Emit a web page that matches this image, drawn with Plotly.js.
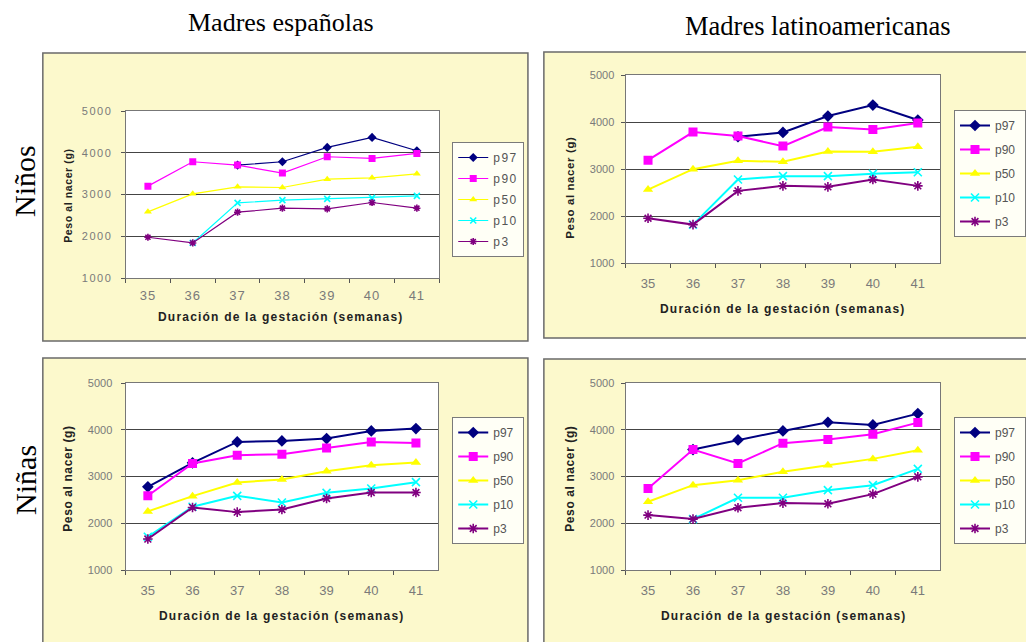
<!DOCTYPE html>
<html><head><meta charset="utf-8">
<script src="https://cdn.plot.ly/plotly-3.0.1.min.js"></script>
<style>
html,body{margin:0;padding:0;background:#fff;}
#chart{width:1026px;height:642px;}
.xtick text{letter-spacing:1px;}
.ytick text{letter-spacing:1.5px;}
.legendtext{letter-spacing:1.5px;}
</style></head><body><div id="chart"></div>
<script>
// ---------- DATA ----------
const weeks = ['35','36','37','38','39','40','41'];
const seriesNames = ['p97','p90','p50','p10','p3'];
const colTitles = ['Madres españolas','Madres latinoamericanas'];
const rowTitles = ['Niños','Niñas'];
const xTitle = 'Duración de la gestación (semanas)';
const yTitle = 'Peso al nacer (g)';

// Madres españolas - Niños
const espNinos_p97 = [null, null, 3704, 3784, 4128, 4368, 4048];
const espNinos_p90 = [3200, 3784, 3704, 3512, 3904, 3864, 3984];
const espNinos_p50 = [2584, 3016, 3184, 3168, 3368, 3400, 3496];
const espNinos_p10 = [null, 1840, 2800, 2864, 2896, 2920, 2968];
const espNinos_p3  = [1976, 1840, 2576, 2672, 2656, 2808, 2672];

// Madres latinoamericanas - Niños
const latNinos_p97 = [null, null, 3686, 3778, 4126, 4361, 4041];
const latNinos_p90 = [3188, 3785, 3700, 3487, 3892, 3842, 3977];
const latNinos_p50 = [2563, 2996, 3174, 3153, 3373, 3366, 3472];
const latNinos_p10 = [null, 1817, 2776, 2847, 2847, 2897, 2932];
const latNinos_p3  = [1952, 1817, 2535, 2641, 2620, 2776, 2641];

// Madres españolas - Niñas
const espNinas_p97 = [2779, 3292, 3740, 3762, 3811, 3975, 4025];
const espNinas_p90 = [2587, 3278, 3456, 3477, 3612, 3740, 3719];
const espNinas_p50 = [2253, 2580, 2872, 2936, 3114, 3242, 3299];
const espNinas_p10 = [1712, 2352, 2587, 2445, 2651, 2744, 2879];
const espNinas_p3  = [1662, 2338, 2238, 2295, 2530, 2658, 2658];

// Madres latinoamericanas - Niñas
const latNinas_p97 = [null, 3577, 3783, 3975, 4160, 4103, 4345];
const latNinas_p90 = [2744, 3577, 3278, 3712, 3790, 3904, 4153];
const latNinas_p50 = [2459, 2815, 2922, 3100, 3242, 3377, 3562];
const latNinas_p10 = [null, 2089, 2545, 2545, 2708, 2815, 3164];
const latNinas_p3  = [2174, 2089, 2331, 2431, 2416, 2623, 2993];

// ---------- STYLE / LAYOUT ----------
const W = 1026, H = 642;
const px = v => v / W;
const py = v => 1 - v / H;
const SANS = 'Liberation Sans, Arial, sans-serif';
const SERIF = 'Liberation Serif, Times New Roman, serif';

const colors  = ['#000080', '#ff00ff', '#ffff00', '#00ffff', '#800080'];
const symbols = ['diamond', 'square', 'triangle-up', 'x-thin-open', 'asterisk-open'];

const panels = [
  {id:'', data:[espNinos_p97,espNinos_p90,espNinos_p50,espNinos_p10,espNinos_p3],
   plot:[126,441,111,278], box:[43,530,53,341], leg:[454,142], lw:1.2, ms:7, gap:2,
   xt:[282,317], yt:[68,196], ytSize:10.5, ylabStand:6, xlabStand:5},
  {id:'2', data:[latNinos_p97,latNinos_p90,latNinos_p50,latNinos_p10,latNinos_p3],
   plot:[628,944,75,263], box:[546,1032,52,338], leg:[958,110], lw:2, ms:9, gap:5,
   xt:[786,309], yt:[572,188], ytSize:11.5, ylabStand:4, xlabStand:8},
  {id:'3', data:[espNinas_p97,espNinas_p90,espNinas_p50,espNinas_p10,espNinas_p3],
   plot:[126,440,383,570], box:[43,530,358,648], leg:[454,417], lw:2, ms:9, gap:5,
   xt:[283,616], yt:[68,479], ytSize:12, ylabStand:6, xlabStand:8},
  {id:'4', data:[latNinas_p97,latNinas_p90,latNinas_p50,latNinas_p10,latNinas_p3],
   plot:[628,944,383,570], box:[546,1032,359,648], leg:[958,417], lw:2, ms:9, gap:5,
   xt:[787,616], yt:[572,479], ytSize:12, ylabStand:4, xlabStand:8}
];

const traces = [];
const layout = {
  width: W, height: H,
  margin: {l:0, r:0, t:0, b:0},
  paper_bgcolor: '#ffffff',
  plot_bgcolor: 'rgba(0,0,0,0)',
  showlegend: true,
  shapes: [], annotations: []
};

panels.forEach((p, pi) => {
  const xa = 'x' + p.id, ya = 'y' + p.id, lg = 'legend' + p.id;
  seriesNames.forEach((name, si) => {
    const isOpen = symbols[si].indexOf('open') >= 0;
    traces.push({
      type: 'scatter', mode: 'lines+markers',
      x: weeks, y: p.data[si], name: name,
      xaxis: xa, yaxis: ya, legend: lg,
      legendgroup: 'g' + pi + '_' + name,
      line: {color: colors[si], width: p.lw},
      marker: {symbol: symbols[si], color: colors[si], size: isOpen ? p.ms - 1 : p.ms,
               line: {color: colors[si], width: isOpen ? 1.6 : 0}},
      hoverinfo: 'x+y+name'
    });
  });
  layout['xaxis' + p.id] = {
    type: 'category', anchor: ya, domain: [px(p.plot[0]), px(p.plot[1])],
    range: [-0.5, 6.5], tickson: 'boundaries', ticks: 'outside', ticklen: 4,
    tickcolor: '#555', tickwidth: 1, ticklabelstandoff: p.xlabStand,
    showline: true, linecolor: '#777', linewidth: 1, mirror: true,
    showgrid: false, zeroline: false, fixedrange: true,
    tickfont: {family: SANS, size: 13, color: '#7a7a7a'}
  };
  layout['yaxis' + p.id] = {
    anchor: xa, domain: [py(p.plot[3]), py(p.plot[2])],
    range: [1000, 5000], tick0: 1000, dtick: 1000,
    ticks: 'outside', ticklen: 4, tickcolor: '#555', tickwidth: 1,
    ticklabelstandoff: p.ylabStand,
    showline: true, linecolor: '#777', linewidth: 1, mirror: true,
    showgrid: true, gridcolor: '#444', gridwidth: 1,
    zeroline: false, fixedrange: true,
    tickfont: {family: SANS, size: 11, color: '#7a7a7a'}
  };
  layout[lg] = {
    x: px(p.leg[0]), y: py(p.leg[1]), xanchor: 'left', yanchor: 'top',
    bgcolor: '#fffff6', bordercolor: '#7a7a7a', borderwidth: 1,
    font: {family: SANS, size: 12, color: '#555'},
    traceorder: 'grouped', tracegroupgap: p.gap, itemwidth: 30
  };
  // panel background and plot background
  layout.shapes.push({type:'rect', xref:'paper', yref:'paper', layer:'below',
    x0: px(p.box[0]), x1: px(p.box[1]), y0: py(p.box[3]), y1: py(p.box[2]),
    fillcolor: '#fcf9cc', line: {color: '#6a6a6a', width: 1.5}});
  layout.shapes.push({type:'rect', xref:'paper', yref:'paper', layer:'below',
    x0: px(p.plot[0]), x1: px(p.plot[1]), y0: py(p.plot[3]), y1: py(p.plot[2]),
    fillcolor: '#ffffff', line: {width: 0}});
  // axis titles
  layout.annotations.push({xref:'paper', yref:'paper', x: px(p.xt[0]), y: py(p.xt[1]),
    xanchor:'center', yanchor:'middle', showarrow:false,
    text: '<span style="letter-spacing:1.2px"><b>' + xTitle + '</b></span>',
    font: {family: SANS, size: 12, color: '#222'}});
  layout.annotations.push({xref:'paper', yref:'paper', x: px(p.yt[0]), y: py(p.yt[1]),
    xanchor:'center', yanchor:'middle', showarrow:false, textangle: -90,
    text: '<span style="letter-spacing:0.6px"><b>' + yTitle + '</b></span>',
    font: {family: SANS, size: p.ytSize, color: '#222'}});
});

// column & row titles
layout.annotations.push({xref:'paper', yref:'paper', x: px(282), y: py(23),
  xanchor:'center', yanchor:'middle', showarrow:false, text: colTitles[0],
  font: {family: SERIF, size: 26, color: '#000'}});
layout.annotations.push({xref:'paper', yref:'paper', x: px(821), y: py(26),
  xanchor:'center', yanchor:'middle', showarrow:false, text: colTitles[1],
  font: {family: SERIF, size: 26.5, color: '#000'}});
layout.annotations.push({xref:'paper', yref:'paper', x: px(25), y: py(181),
  xanchor:'center', yanchor:'middle', showarrow:false, textangle: -90, text: rowTitles[0],
  font: {family: SERIF, size: 30, color: '#000'}});
layout.annotations.push({xref:'paper', yref:'paper', x: px(25), y: py(480),
  xanchor:'center', yanchor:'middle', showarrow:false, textangle: -90, text: rowTitles[1],
  font: {family: SERIF, size: 30, color: '#000'}});

Plotly.newPlot('chart', traces, layout, {displayModeBar: false, staticPlot: true});
</script></body></html>
